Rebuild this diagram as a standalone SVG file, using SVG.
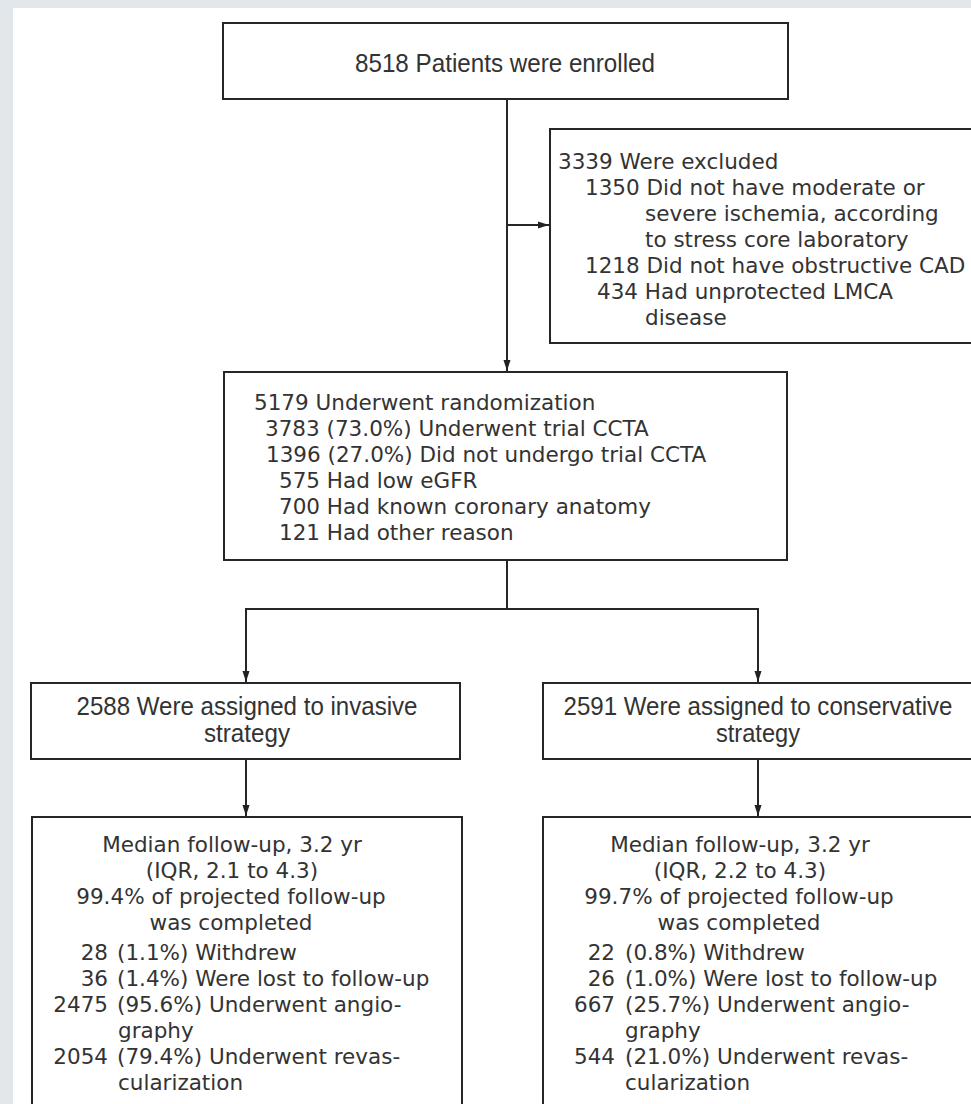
<svg xmlns="http://www.w3.org/2000/svg" width="971" height="1104" viewBox="0 0 971 1104">
  <defs>
    <marker id="ah" markerUnits="userSpaceOnUse" markerWidth="12" markerHeight="8" refX="11" refY="4" orient="auto">
      <path d="M0,0.5 L11,4 L0,7.5 z" fill="#222"/>
    </marker>
    <style>
      .box { fill: #ffffff; stroke: #262626; stroke-width: 2; }
      .conn { fill: none; stroke: #262626; stroke-width: 2; }
      .t { font-family: "DejaVu Sans", "Liberation Sans", sans-serif; font-size: 21.5px; fill: #333333; }
      .c { font-family: "Liberation Sans Narrow", "Liberation Sans", sans-serif; font-size: 25px; fill: #333333; }
      .mid { text-anchor: middle; }
      .end { text-anchor: end; }
    </style>
  </defs>
  <rect x="0" y="0" width="971" height="1104" fill="#e2e7eb"/>
  <rect x="13" y="8" width="958" height="1096" fill="#ffffff"/>

  <g id="connectors">
    <line class="conn" x1="507" y1="99" x2="507" y2="371" marker-end="url(#ah)"/>
    <line class="conn" x1="507" y1="225" x2="549" y2="225" marker-end="url(#ah)"/>
    <polyline class="conn" points="507,560 507,609"/>
    <line class="conn" x1="246" y1="609" x2="758" y2="609"/>
    <line class="conn" x1="246" y1="608" x2="246" y2="682" marker-end="url(#ah)"/>
    <line class="conn" x1="758" y1="608" x2="758" y2="682" marker-end="url(#ah)"/>
    <line class="conn" x1="246" y1="759" x2="246" y2="816" marker-end="url(#ah)"/>
    <line class="conn" x1="758" y1="759" x2="758" y2="816" marker-end="url(#ah)"/>
  </g>

  <g id="enrolled">
    <rect class="box" x="223" y="23" width="565" height="76"/>
    <text class="c mid" x="505" y="72" textLength="300" lengthAdjust="spacingAndGlyphs">8518 Patients were enrolled</text>
  </g>

  <g id="excluded">
    <rect class="box" x="550" y="129" width="430" height="214"/>
    <text class="t" x="558" y="169">3339 Were excluded</text>
    <text class="t" x="585" y="195">1350 Did not have moderate or</text>
    <text class="t" x="645" y="221">severe ischemia, according</text>
    <text class="t" x="645" y="247">to stress core laboratory</text>
    <text class="t" x="585" y="273">1218 Did not have obstructive CAD</text>
    <text class="t" x="597" y="299">434 Had unprotected LMCA</text>
    <text class="t" x="645" y="325">disease</text>
  </g>

  <g id="randomization">
    <rect class="box" x="224" y="372" width="563" height="188"/>
    <text class="t" x="254" y="410">5179 Underwent randomization</text>
    <text class="t" x="265" y="436">3783 (73.0%) Underwent trial CCTA</text>
    <text class="t" x="266" y="462">1396 (27.0%) Did not undergo trial CCTA</text>
    <text class="t" x="279" y="488">575 Had low eGFR</text>
    <text class="t" x="279" y="514">700 Had known coronary anatomy</text>
    <text class="t" x="279" y="540">121 Had other reason</text>
  </g>

  <g id="invasive">
    <rect class="box" x="31" y="683" width="429" height="76"/>
    <text class="c mid" x="247" y="715" textLength="341" lengthAdjust="spacingAndGlyphs">2588 Were assigned to invasive</text>
    <text class="c mid" x="247" y="742" textLength="86" lengthAdjust="spacingAndGlyphs">strategy</text>
  </g>

  <g id="conservative">
    <rect class="box" x="543" y="683" width="440" height="76"/>
    <text class="c mid" x="758" y="715" textLength="389" lengthAdjust="spacingAndGlyphs">2591 Were assigned to conservative</text>
    <text class="c mid" x="758" y="742" textLength="84" lengthAdjust="spacingAndGlyphs">strategy</text>
  </g>

  <g id="invasive-followup">
    <rect class="box" x="32" y="817" width="430" height="300"/>
    <text class="t mid" x="232" y="852">Median follow-up, 3.2 yr</text>
    <text class="t mid" x="232" y="878">(IQR, 2.1 to 4.3)</text>
    <text class="t mid" x="231" y="904">99.4% of projected follow-up</text>
    <text class="t mid" x="231" y="930">was completed</text>
    <text class="t end" x="108" y="960">28</text>
    <text class="t" x="117" y="960">(1.1%) Withdrew</text>
    <text class="t end" x="108" y="986">36</text>
    <text class="t" x="117" y="986">(1.4%) Were lost to follow-up</text>
    <text class="t end" x="108" y="1012">2475</text>
    <text class="t" x="117" y="1012">(95.6%) Underwent angio-</text>
    <text class="t" x="118" y="1038">graphy</text>
    <text class="t end" x="108" y="1064">2054</text>
    <text class="t" x="117" y="1064">(79.4%) Underwent revas-</text>
    <text class="t" x="118" y="1090">cularization</text>
  </g>

  <g id="conservative-followup">
    <rect class="box" x="543" y="817" width="440" height="300"/>
    <text class="t mid" x="740" y="852">Median follow-up, 3.2 yr</text>
    <text class="t mid" x="740" y="878">(IQR, 2.2 to 4.3)</text>
    <text class="t mid" x="739" y="904">99.7% of projected follow-up</text>
    <text class="t mid" x="739" y="930">was completed</text>
    <text class="t end" x="615" y="960">22</text>
    <text class="t" x="625" y="960">(0.8%) Withdrew</text>
    <text class="t end" x="615" y="986">26</text>
    <text class="t" x="625" y="986">(1.0%) Were lost to follow-up</text>
    <text class="t end" x="615" y="1012">667</text>
    <text class="t" x="625" y="1012">(25.7%) Underwent angio-</text>
    <text class="t" x="625" y="1038">graphy</text>
    <text class="t end" x="615" y="1064">544</text>
    <text class="t" x="625" y="1064">(21.0%) Underwent revas-</text>
    <text class="t" x="625" y="1090">cularization</text>
  </g>
</svg>
